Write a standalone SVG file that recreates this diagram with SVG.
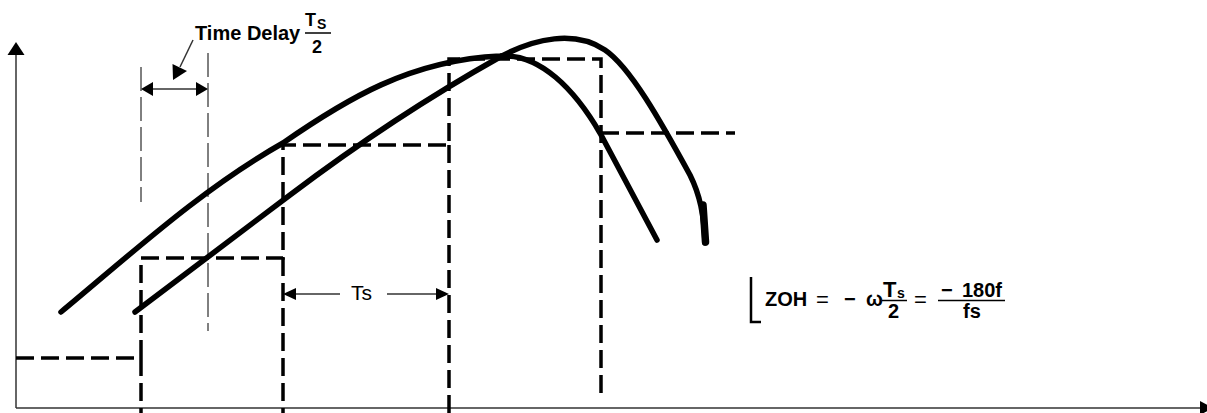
<svg xmlns="http://www.w3.org/2000/svg" width="1207" height="413" viewBox="0 0 1207 413">
<style>
.axis{stroke:#333;stroke-width:1.5;fill:none}
.curve{stroke:#000;stroke-width:5.5;fill:none;stroke-linecap:round;stroke-linejoin:round}
.zoh{stroke:#000;stroke-width:3.5;fill:none;stroke-dasharray:18 7}
.thin{stroke:#000;stroke-width:1;fill:none;stroke-dasharray:24 6}
.dim{stroke:#333;stroke-width:1.5;fill:none}
.head{fill:#000}
.b{font-family:"Liberation Sans",Arial,sans-serif;font-weight:bold;fill:#000}
.r{font-family:"Liberation Sans",Arial,sans-serif;fill:#000}
.bar{stroke:#000;stroke-width:1.5}
</style>
<rect width="1207" height="413" fill="#fff"/>
<g id="axes">
<line class="axis" x1="16" y1="408" x2="16" y2="54"/>
<polygon class="head" points="16,42 7.5,55 24.5,55"/>
<line class="axis" x1="16" y1="408" x2="1201" y2="408"/>
<polygon class="head" points="1213,408 1200,401 1200,415"/>
</g>
<g id="zoh-staircase">
<path class="zoh" d="M16,358 H141 V258 H283 V145 H449 V59 H601 V395"/>
<path class="zoh" d="M141,358 V413"/>
<path class="zoh" d="M283,258 V413"/>
<path class="zoh" d="M449,145 V413"/>
<path class="zoh" d="M601,133 H735"/>
</g>
<g id="curves">
<path id="curve-input" class="curve" d="M61,312 C130,255 200,190 283,143 C345,100 410,60 500,56 C540,53 575,90 600,133 L657,240"/>
<path id="curve-output" class="curve" d="M135,312 L290,195 C380,127 450,85 500,57 C535,38 575,30 605,50 C630,67 660,120 690,175 C700,195 704,215 705,243"/>
<path class="curve" style="stroke-width:7.5" d="M703,205 L705.5,242"/>
</g>
<g id="time-delay">
<line class="thin" x1="141" y1="67" x2="141" y2="202"/>
<line class="thin" x1="208" y1="53" x2="208" y2="331"/>
<line class="dim" x1="150" y1="89" x2="199" y2="89"/>
<polygon class="head" points="141,89 153,82 153,96"/>
<polygon class="head" points="208,89 196,82 196,96"/>
<line class="dim" x1="193" y1="40" x2="180" y2="67"/>
<polygon class="head" points="173,80 172.5,64 187,71"/>
<text class="b" x="195" y="40" font-size="20">Time Delay</text>
<text class="b" x="305" y="26" font-size="18">T</text>
<text class="b" x="317" y="29" font-size="14">S</text>
<line class="bar" x1="305" y1="33" x2="331" y2="33"/>
<text class="b" x="312" y="53" font-size="18">2</text>
</g>
<g id="ts-dimension">
<line class="dim" x1="293" y1="294" x2="340" y2="294"/>
<polygon class="head" points="283,294 296,288 296,300"/>
<text class="r" x="351" y="299.5" font-size="21">Ts</text>
<line class="dim" x1="387" y1="294" x2="438" y2="294"/>
<polygon class="head" points="449,294 436,288 436,300"/>
</g>
<g id="zoh-formula">
<path d="M751,277 V322 H761" stroke="#000" stroke-width="2.5" fill="none"/>
<text class="b" x="765" y="306" font-size="20">ZOH</text>
<text class="r" x="816" y="307" font-size="22">=</text>
<text class="b" x="844" y="306" font-size="20">−</text>
<text class="b" x="866" y="306" font-size="20">ω</text>
<text class="b" x="883" y="297" font-size="22">T</text>
<text class="b" x="897" y="298" font-size="14">s</text>
<line class="bar" x1="882" y1="300.5" x2="907" y2="300.5"/>
<text class="b" x="888" y="318" font-size="20">2</text>
<text class="r" x="914" y="307" font-size="22">=</text>
<text class="b" x="941" y="297" font-size="20">−</text>
<text class="b" x="962" y="297" font-size="20">180f</text>
<line class="bar" x1="938" y1="300.5" x2="1005" y2="300.5"/>
<text class="b" x="963" y="318" font-size="20">fs</text>
</g>
</svg>
